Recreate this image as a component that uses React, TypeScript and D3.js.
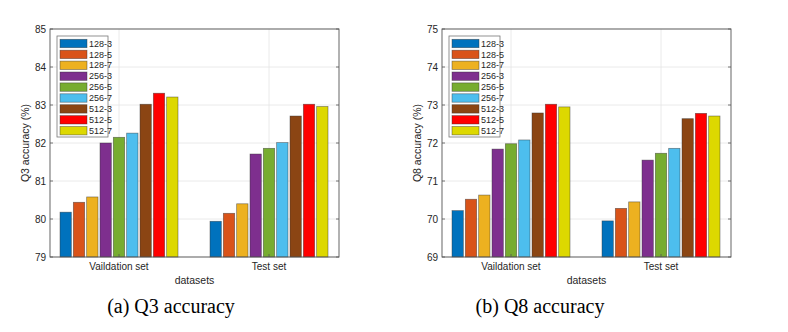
import React from "react";
import * as d3 from "d3";

const groups = ["Vaildation set", "Test set"];
const series = ["128-3", "128-5", "128-7", "256-3", "256-5", "256-7", "512-3", "512-5", "512-7"];
const colors = ["#0072BD", "#D95319", "#EDB120", "#7E2F8E", "#77AC30", "#4DBEEE", "#8B4513", "#FF0000", "#DDD800"];

// rows = groups, cols = series
const q3Values = [
  [80.18, 80.44, 80.58, 82.0, 82.15, 82.26, 83.02, 83.31, 83.21],
  [79.94, 80.15, 80.4, 81.71, 81.86, 82.01, 82.71, 83.02, 82.96],
];
const q8Values = [
  [70.22, 70.52, 70.63, 71.84, 71.98, 72.08, 72.79, 73.02, 72.95],
  [69.95, 70.28, 70.45, 71.55, 71.73, 71.86, 72.64, 72.78, 72.71],
];
const q3Ticks = [79, 80, 81, 82, 83, 84, 85];
const q8Ticks = [69, 70, 71, 72, 73, 74, 75];

const W = 289,
  top = 29,
  bottom = 257;
const textColor = "#262626";
const font = "Liberation Sans, Arial, sans-serif";

function Panel({ left, values, ticks, yLabel, caption, capX }) {
  const x = d3.scaleLinear().domain([0.54, 0.54 + W / 150]).range([left, left + W]);
  const y = d3
    .scaleLinear()
    .domain([ticks[0], ticks[ticks.length - 1]])
    .range([bottom, top]);
  const inner = d3.scaleBand().domain(series).range([-59, 59]).paddingInner(0.15);

  return (
    <g fontFamily={font} fill={textColor}>
      {ticks.map((t) => (
        <line key={"gy" + t} x1={left} x2={left + W} y1={y(t)} y2={y(t)} stroke="#e4e4e4" strokeWidth={0.8} />
      ))}
      {groups.map((g, i) => (
        <line key={"gx" + g} x1={x(i + 1)} x2={x(i + 1)} y1={top} y2={bottom} stroke="#e4e4e4" strokeWidth={0.8} />
      ))}
      {groups.map((g, gi) =>
        series.map((s, si) => (
          <rect
            key={g + s}
            x={x(gi + 1) + inner(s)}
            y={y(values[gi][si])}
            width={inner.bandwidth()}
            height={bottom - y(values[gi][si])}
            fill={colors[si]}
            stroke="#333"
            strokeOpacity={0.6}
            strokeWidth={0.7}
          />
        ))
      )}
      <rect x={left} y={top} width={W} height={bottom - top} fill="none" stroke="#555" strokeWidth={0.9} />
      {ticks.map((t) => (
        <g key={"t" + t}>
          <line x1={left} x2={left + 3} y1={y(t)} y2={y(t)} stroke="#555" strokeWidth={0.8} />
          <line x1={left + W} x2={left + W - 3} y1={y(t)} y2={y(t)} stroke="#555" strokeWidth={0.8} />
          <text x={left - 4} y={y(t)} dy="0.35em" textAnchor="end" fontSize={10}>
            {t}
          </text>
        </g>
      ))}
      {groups.map((g, i) => (
        <g key={"xt" + g}>
          <line x1={x(i + 1)} x2={x(i + 1)} y1={bottom} y2={bottom - 3} stroke="#555" strokeWidth={0.8} />
          <text x={x(i + 1)} y={bottom + 13} textAnchor="middle" fontSize={10}>
            {g}
          </text>
        </g>
      ))}
      <text x={left + W / 2} y={bottom + 27} textAnchor="middle" fontSize={10.5}>
        datasets
      </text>
      <text
        transform={`translate(${left - 21},${(top + bottom) / 2}) rotate(-90)`}
        textAnchor="middle"
        fontSize={10.5}
      >
        {yLabel}
      </text>
      <g transform={`translate(${left + 7},36)`}>
        <rect width={51} height={101} fill="#fff" stroke="#777" strokeWidth={0.8} />
        {series.map((s, i) => (
          <g key={"lg" + s} transform={`translate(0,${7.5 + i * 10.9})`}>
            <rect x={3} y={-4.2} width={27} height={8.4} fill={colors[i]} stroke="#333" strokeOpacity={0.6} strokeWidth={0.7} />
            <text x={32} y={0} dy="0.35em" fontSize={9}>
              {s}
            </text>
          </g>
        ))}
      </g>
      <text x={capX} y={313} textAnchor="middle" fontFamily="Liberation Serif, Times New Roman, serif" fontSize={20} fill="#000">
        {caption}
      </text>
    </g>
  );
}

export default function App() {
  return (
    <svg width={788} height={332} style={{ position: "absolute", left: 0, top: 0, background: "#fff" }}>
      <Panel left={50} values={q3Values} ticks={q3Ticks} yLabel="Q3 accuracy (%)" caption="(a) Q3 accuracy" capX={171} />
      <Panel left={442} values={q8Values} ticks={q8Ticks} yLabel="Q8 accuracy (%)" caption="(b) Q8 accuracy" capX={540} />
    </svg>
  );
}
